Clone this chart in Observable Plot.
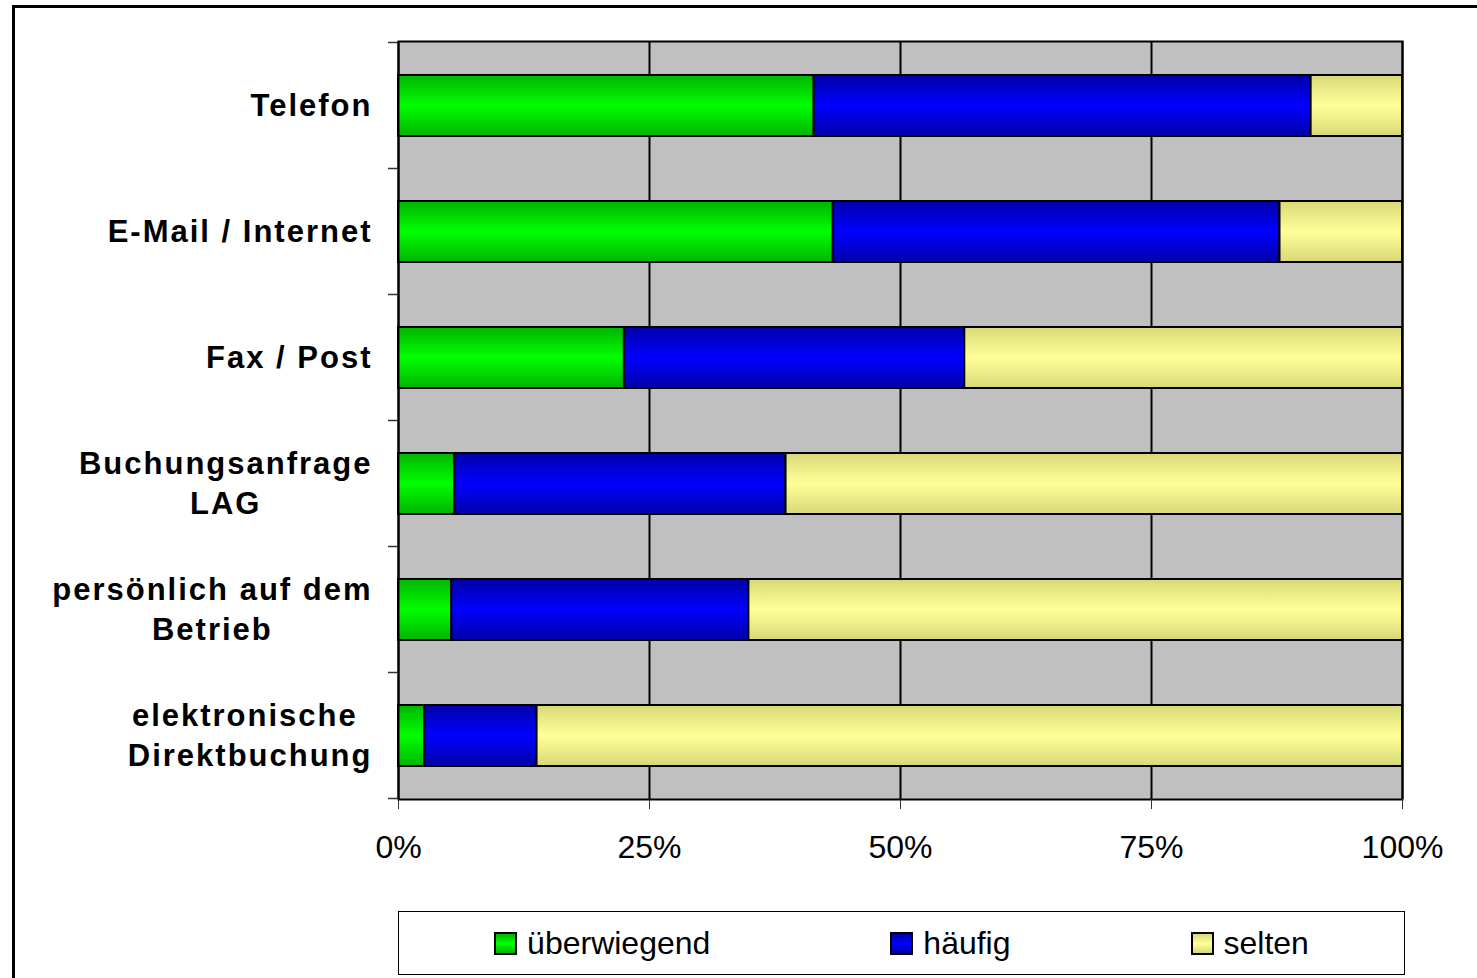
<!DOCTYPE html>
<html><head><meta charset="utf-8">
<script src="https://cdn.jsdelivr.net/npm/d3@7"></script>
<script src="https://cdn.jsdelivr.net/npm/@observablehq/plot@0.6"></script>
<style>
html,body{margin:0;padding:0;background:#fff;overflow:hidden;width:1477px;height:978px;}
#frame{position:absolute;left:12px;top:5px;width:1500px;height:1000px;border:3px solid #000;box-sizing:border-box;}
#chart{position:absolute;left:0;top:0;}
#legend{position:absolute;left:398px;top:911px;width:1007px;height:64px;border:1.5px solid #000;box-sizing:border-box;display:flex;justify-content:center;align-items:center;gap:180px;font-family:"Liberation Sans",Arial,sans-serif;font-size:32px;background:#fff;}
.item{display:flex;align-items:center;}
.sw{width:23px;height:23px;box-sizing:border-box;border:2.5px solid #000;margin-right:10px;}
</style></head><body>
<div id="frame"></div>
<div id="chart"></div>
<div id="legend"></div>
<script>
const categories = ["Telefon", "E-Mail / Internet", "Fax / Post", "Buchungsanfrage\nLAG", "persönlich auf dem\nBetrieb", "elektronische\u00a0\nDirektbuchung"];
const seriesNames = ["überwiegend", "häufig", "selten"];
const ueberwiegend = [41.4, 43.3, 22.5, 5.6, 5.3, 2.6];
const haeufig = [49.5, 44.5, 33.9, 33.0, 29.6, 11.2];
const selten = [9.1, 12.2, 43.6, 61.4, 65.1, 86.2];
const xTicks = [0, 25, 50, 75, 100];

const seriesColors = [["#00b400", "#00ff00"], ["#0000a8", "#0000ff"], ["#d8d878", "#ffff99"]];
const seriesValues = [ueberwiegend, haeufig, selten];

const rows = categories.flatMap((c, i) => seriesNames.map((s, j) => ({cat: c, series: s, value: seriesValues[j][i]})));

const font = '"Liberation Sans", Arial, sans-serif';
const chart = Plot.plot({
  width: 1477, height: 880,
  marginLeft: 398, marginRight: 75, marginTop: 41, marginBottom: 81,
  style: {fontFamily: font, background: "transparent", overflow: "visible"},
  x: {domain: [0, 100], label: null},
  y: {domain: categories, paddingInner: 0.517, paddingOuter: 0.2585, label: null},
  color: {domain: seriesNames, range: seriesNames.map((_, i) => `url(#grad${i})`)},
  marks: [
    Plot.frame({fill: "#c0c0c0", stroke: null}),
    Plot.gridX(xTicks, {stroke: "#000", strokeOpacity: 1, strokeWidth: 2}),
    Plot.barX(rows, Plot.stackX({y: "cat", x: "value", fill: "series", stroke: "#000", strokeWidth: 2})),
    Plot.frame({stroke: "#000", strokeWidth: 2}),
    Plot.axisX({ticks: xTicks, tickFormat: d => d + "%", tickSize: 10, tickPadding: 26, fontSize: 32, stroke: "#333", label: null}),
    Plot.axisY({tickSize: 0, tickPadding: 26, fontSize: 31, fontWeight: "bold", lineHeight: 1.29, dy: -3, label: null})
  ]
});
document.getElementById("chart").append(chart);

const svg = d3.select(chart);
const defs = svg.insert("defs", ":first-child");
seriesColors.forEach(([edge, mid], i) => {
  const g = defs.append("linearGradient").attr("id", "grad" + i)
    .attr("x1", 0).attr("y1", 0).attr("x2", 0).attr("y2", 1);
  g.append("stop").attr("offset", "0").attr("stop-color", edge);
  g.append("stop").attr("offset", "0.5").attr("stop-color", mid);
  g.append("stop").attr("offset", "1").attr("stop-color", edge);
});

// boundary ticks on the category axis
const ys = chart.scale("y");
const xs = chart.scale("x");
const step = ys.step, bw = ys.bandwidth;
const bounds = categories.map(c => ys.apply(c) - (step - bw) / 2).concat([ys.apply(categories[categories.length - 1]) + bw + (step - bw) / 2]);
const x0 = xs.apply(0);
const gT = svg.append("g").attr("stroke", "#333").attr("stroke-width", 1.5);
bounds.forEach(b => gT.append("line").attr("x1", x0 - 10).attr("x2", x0).attr("y1", b).attr("y2", b));

// letter spacing + centered lines inside right-aligned label blocks
const labels = chart.querySelectorAll('g[aria-label="y-axis tick label"] text');
labels.forEach(t => { t.style.letterSpacing = "2px"; });
labels.forEach(t => {
  const bb = t.getBBox();
  const cx = bb.x + bb.width / 2;
  t.setAttribute("text-anchor", "middle");
  t.setAttribute("x", cx);
  t.querySelectorAll("tspan").forEach(ts => ts.setAttribute("x", cx));
});

// legend
const legend = d3.select("#legend");
seriesNames.forEach((s, i) => {
  const it = legend.append("div").attr("class", "item");
  it.append("div").attr("class", "sw")
    .style("background", `linear-gradient(to bottom, ${seriesColors[i][0]}, ${seriesColors[i][1]}, ${seriesColors[i][0]})`);
  it.append("span").text(s);
});
</script>
</body></html>
